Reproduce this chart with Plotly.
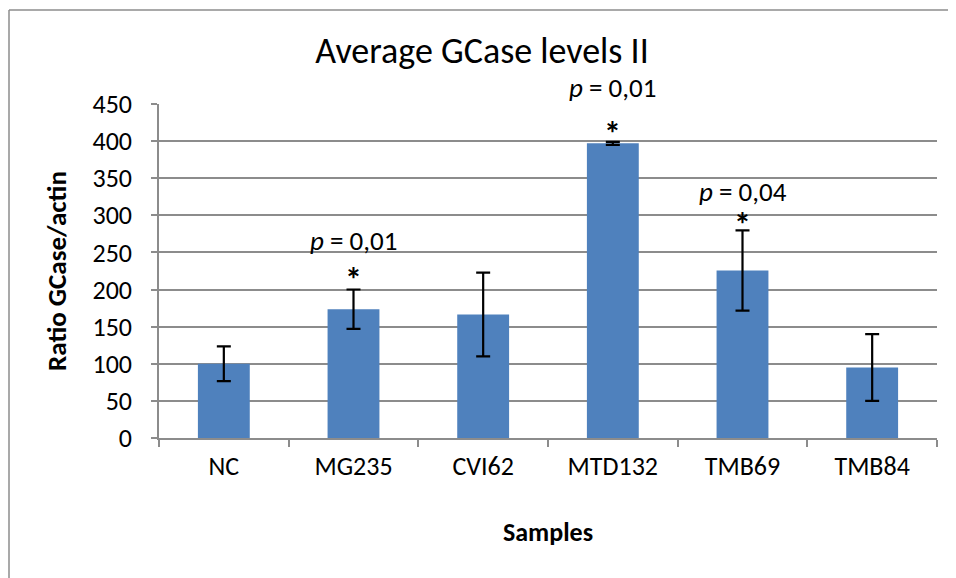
import plotly.graph_objects as go

categories = ["NC", "MG235", "CVI62", "MTD132", "TMB69", "TMB84"]
values = [100, 173.6, 166.4, 397, 225.7, 95]
errors = [23.5, 26.5, 56.5, 2, 54, 45]
p_labels = {"MG235": "<i>p</i> = 0,01", "MTD132": "<i>p</i> = 0,01", "TMB69": "<i>p</i> = 0,04"}
p_y = {"MG235": 266, "MTD132": 472, "TMB69": 332}
star_y = {"MG235": 213, "MTD132": 410, "TMB69": 288}
y_ticks = [0, 50, 100, 150, 200, 250, 300, 350, 400, 450]

FONT = "Carlito, Calibri, 'Liberation Sans Narrow', 'Open Sans', sans-serif"
GRID = "#8c8c8c"

# page has an 8px body margin; figure sized to fit the 956x578 window
W, H = 948, 570
L, R, T, B = 151, 19, 96, 140
PW = W - L - R
PH = H - T - B
Y_MAX = 450
PX_PER_UNIT = PH / Y_MAX

fig = go.Figure()
fig.add_trace(go.Bar(
    x=categories, y=values, width=0.4,
    marker=dict(color="#4f81bd", line=dict(width=0)),
    error_y=dict(type="data", array=errors, visible=True, color="black",
                 thickness=2.2, width=7),
    showlegend=False,
))

anns = []
for cat, txt in p_labels.items():
    yv = p_y[cat]
    shift = 0
    if yv > Y_MAX:
        shift = (yv - Y_MAX) * PX_PER_UNIT
        yv = Y_MAX
    anns.append(dict(x=cat, y=yv, yshift=shift, xref="x", yref="y", text=txt, showarrow=False,
                     font=dict(family=FONT, size=27, color="black")))
    anns.append(dict(x=cat, y=star_y[cat], xref="x", yref="y", text="<b>*</b>", showarrow=False,
                     font=dict(family=FONT, size=34, color="black")))

x_left = -(L - 1) / PW
y_top = 1 + (T - 2) / PH
fig.update_layout(
    width=W, height=H,
    margin=dict(l=L, r=R, t=T, b=B),
    paper_bgcolor="white", plot_bgcolor="white",
    font=dict(family=FONT, color="black"),
    title=dict(text="Average GCase levels II", x=0.5, xref="container", xanchor="center",
               y=1 - 42 / H, yref="container", yanchor="middle",
               font=dict(family=FONT, size=36, color="black")),
    annotations=anns,
    shapes=[
        dict(type="line", xref="paper", yref="paper", x0=x_left, x1=x_left, y0=-2, y1=y_top,
             line=dict(color="#8c8c8c", width=1.5), layer="below"),
        dict(type="line", xref="paper", yref="paper", x0=x_left, x1=2, y0=y_top, y1=y_top,
             line=dict(color="#8c8c8c", width=1.5), layer="below"),
    ],
)

fig.update_xaxes(
    showline=True, linecolor=GRID, linewidth=1.5,
    ticks="outside", tickson="boundaries", ticklen=7, tickcolor=GRID, tickwidth=1.5,
    ticklabelstandoff=4,
    tickfont=dict(family=FONT, size=26, color="black"),
    title=dict(text="<b>Samples</b>", font=dict(family=FONT, size=26, color="black"), standoff=42),
    showgrid=False,
)
fig.update_yaxes(
    range=[0, Y_MAX], tickvals=y_ticks,
    showline=True, linecolor=GRID, linewidth=1.5,
    ticks="outside", ticklen=6, tickcolor=GRID, tickwidth=1.5,
    ticklabelstandoff=14,
    showgrid=True, gridcolor=GRID, gridwidth=1.5,
    tickfont=dict(family=FONT, size=26, color="black"),
    title=dict(text="<b>Ratio GCase/actin</b>", font=dict(family=FONT, size=27, color="black"), standoff=18),
    zeroline=False,
)

fig.write_html("out.html")
